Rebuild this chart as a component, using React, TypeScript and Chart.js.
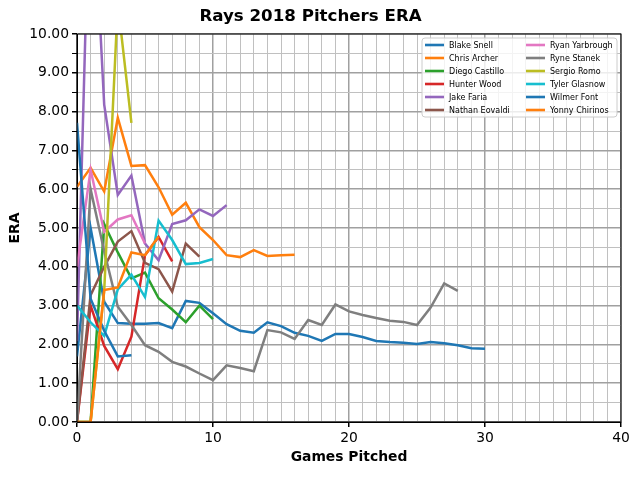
import { useEffect, useRef } from 'react';
import { Chart, registerables } from 'chart.js';
import type { Plugin } from 'chart.js';

Chart.register(...registerables);

// ERA after each start
const pitchers = [
  'Blake Snell',
  'Chris Archer',
  'Diego Castillo',
  'Hunter Wood',
  'Jake Faria',
  'Nathan Eovaldi',
  'Ryan Yarbrough',
  'Ryne Stanek',
  'Sergio Romo',
  'Tyler Glasnow',
  'Wilmer Font',
  'Yonny Chirinos',
];

const lineColors = [
  '#1f77b4', '#ff7f0e', '#2ca02c', '#d62728', '#9467bd', '#8c564b',
  '#e377c2', '#7f7f7f', '#bcbd22', '#17becf', '#1f77b4', '#ff7f0e',
];

const blakeSnell = [
  1.69, 5.0, 3.1, 2.55, 2.53, 2.53, 2.55, 2.42, 3.12, 3.07, 2.8, 2.52, 2.35, 2.3, 2.57, 2.47,
  2.3, 2.22, 2.09, 2.27, 2.27, 2.19, 2.09, 2.06, 2.04, 2.01, 2.06, 2.03, 1.98, 1.9, 1.89,
];
const chrisArcher = [
  6.06, 6.55, 5.94, 7.84, 6.6, 6.62, 6.05, 5.34, 5.65, 5.02, 4.69, 4.3, 4.25, 4.43, 4.28, 4.3, 4.31,
];
const diegoCastillo = [0, 0, 5.1, 4.37, 3.7, 3.85, 3.19, 2.9, 2.57, 3.0, 2.65];
const hunterWood = [0, 3.0, 1.96, 1.36, 2.2, 4.3, 4.77, 4.14];
const jakeFaria = [2.08, 15.0, 8.18, 5.85, 6.35, 4.6, 4.17, 5.1, 5.2, 5.48, 5.31, 5.59];
const nathanEovaldi = [0, 3.27, 4.0, 4.65, 4.92, 4.1, 3.94, 3.36, 4.6, 4.26];
const ryanYarbrough = [4.0, 6.5, 4.9, 5.22, 5.33, 4.6];
const ryneStanek = [
  0, 6.0, 4.4, 2.97, 2.5, 1.98, 1.81, 1.55, 1.43, 1.25, 1.08, 1.46, 1.39, 1.31, 2.37,
  2.31, 2.14, 2.63, 2.5, 3.03, 2.85, 2.76, 2.68, 2.61, 2.58, 2.5, 2.95, 3.57, 3.38,
];
const sergioRomo = [0, 0, 3.38, 10.8, 7.71];
const tylerGlasnow = [3.0, 2.57, 2.22, 3.42, 3.8, 3.22, 5.19, 4.69, 4.07, 4.1, 4.2];
const wilmerFont = [7.71, 3.18, 2.35, 1.69, 1.72];
const yonnyChirinos = [0, 0, 3.4, 3.47, 4.37, 4.3, 4.78];

const eraSeries = [
  blakeSnell, chrisArcher, diegoCastillo, hunterWood, jakeFaria, nathanEovaldi,
  ryanYarbrough, ryneStanek, sergioRomo, tylerGlasnow, wilmerFont, yonnyChirinos,
];

const FONT = '"DejaVu Sans", sans-serif';

const majorGrid = '#a0a0a0';
const minorGrid = '#c0c0c0';

// box round the plot area, drawn over the lines like matplotlib spines
const frame: Plugin<'line'> = {
  id: 'frame',
  afterDatasetsDraw(chart) {
    const { ctx, chartArea } = chart;
    ctx.save();
    ctx.strokeStyle = '#000';
    ctx.lineWidth = 1;
    ctx.strokeRect(chartArea.left, chartArea.top, chartArea.right - chartArea.left, chartArea.bottom - chartArea.top);
    ctx.restore();
  },
};

// two-column legend in the upper right corner of the plot
const insideLegend: Plugin<'line'> = {
  id: 'insideLegend',
  afterDraw(chart) {
    const { ctx, chartArea } = chart;
    const boxW = 195;
    const boxH = 79;
    const boxX = chartArea.right - boxW - 4;
    const boxY = chartArea.top + 4;
    ctx.save();
    ctx.beginPath();
    ctx.roundRect(boxX, boxY, boxW, boxH, 3);
    ctx.fillStyle = 'rgba(255,255,255,0.8)';
    ctx.fill();
    ctx.strokeStyle = '#cccccc';
    ctx.lineWidth = 1;
    ctx.stroke();

    ctx.font = `8px ${FONT}`;
    ctx.textBaseline = 'middle';
    ctx.fillStyle = '#000';
    chart.data.datasets.forEach((ds, i) => {
      const col = Math.floor(i / 6);
      const row = i % 6;
      const lx = boxX + 3 + col * 101;
      const ly = boxY + 7 + row * 13;
      ctx.beginPath();
      ctx.moveTo(lx, ly);
      ctx.lineTo(lx + 19, ly);
      ctx.strokeStyle = ds.borderColor as string;
      ctx.lineWidth = 2.6;
      ctx.stroke();
      ctx.fillText(ds.label ?? '', lx + 24, ly + 0.5);
    });
    ctx.restore();
  },
};

export default function App() {
  const canvasRef = useRef<HTMLCanvasElement | null>(null);

  useEffect(() => {
    document.body.style.margin = '0';
    if (!canvasRef.current) {
      return;
    }

    const chart = new Chart(canvasRef.current, {
      type: 'line',
      data: {
        datasets: pitchers.map((name, i) => ({
          label: name,
          data: eraSeries[i].map((era, game) => ({ x: game, y: era })),
          borderColor: lineColors[i],
          backgroundColor: lineColors[i],
          borderWidth: 2.5,
          pointRadius: 0,
          tension: 0,
          clip: 0,
          order: pitchers.length - i,
        })),
      },
      options: {
        responsive: false,
        animation: false,
        events: [],
        layout: { padding: { left: 0, right: 19, top: 0, bottom: 0 } },
        plugins: {
          legend: { display: false },
          tooltip: { enabled: false },
          title: {
            display: true,
            text: 'Rays 2018 Pitchers ERA',
            color: '#000',
            font: { family: FONT, size: 16.67, weight: 'bold' },
            padding: { top: 7, bottom: 7 },
          },
        },
        scales: {
          x: {
            type: 'linear',
            min: 0,
            max: 40,
            afterFit: (scale) => {
              scale.height = 58;
            },
            ticks: {
              stepSize: 1,
              autoSkip: false,
              maxRotation: 0,
              padding: 3,
              color: '#000',
              font: { family: FONT, size: 13.89 },
              callback: (v) => (Number(v) % 10 === 0 ? String(v) : ''),
            },
            grid: {
              color: (c) => (c.tick && c.tick.value % 10 === 0 ? majorGrid : minorGrid),
              lineWidth: (c) => (c.tick && c.tick.value % 10 === 0 ? 1.5 : 1),
              tickColor: (c) => (c.tick && c.tick.value % 10 === 0 ? '#000' : 'rgba(0,0,0,0)'),
              tickLength: 5,
            },
            border: { display: true, color: '#000', width: 1 },
            title: {
              display: true,
              text: 'Games Pitched',
              color: '#000',
              font: { family: FONT, size: 13.89, weight: 'bold' },
              padding: { top: 4, bottom: 14 },
            },
          },
          y: {
            min: 0,
            max: 10,
            afterFit: (scale) => {
              scale.width = 77;
            },
            ticks: {
              stepSize: 0.5,
              autoSkip: false,
              padding: 3,
              color: '#000',
              font: { family: FONT, size: 13.89 },
              callback: (v) => (Number.isInteger(Number(v)) ? Number(v).toFixed(2) : ''),
            },
            grid: {
              color: (c) => (c.tick && Number.isInteger(c.tick.value) ? majorGrid : minorGrid),
              lineWidth: (c) => (c.tick && Number.isInteger(c.tick.value) ? 1.5 : 1),
              tickColor: '#000',
              tickLength: 5,
            },
            border: { display: true, color: '#000', width: 1 },
            title: {
              display: true,
              text: 'ERA',
              color: '#000',
              font: { family: FONT, size: 13.89, weight: 'bold' },
              padding: { top: 7, bottom: 0 },
            },
          },
        },
      },
      plugins: [frame, insideLegend],
    });

    return () => {
      chart.destroy();
    };
  }, []);

  return (
    <div style={{ width: 640, height: 480, position: 'relative' }}>
      <canvas ref={canvasRef} width={640} height={480} style={{ width: 640, height: 480 }} />
    </div>
  );
}
